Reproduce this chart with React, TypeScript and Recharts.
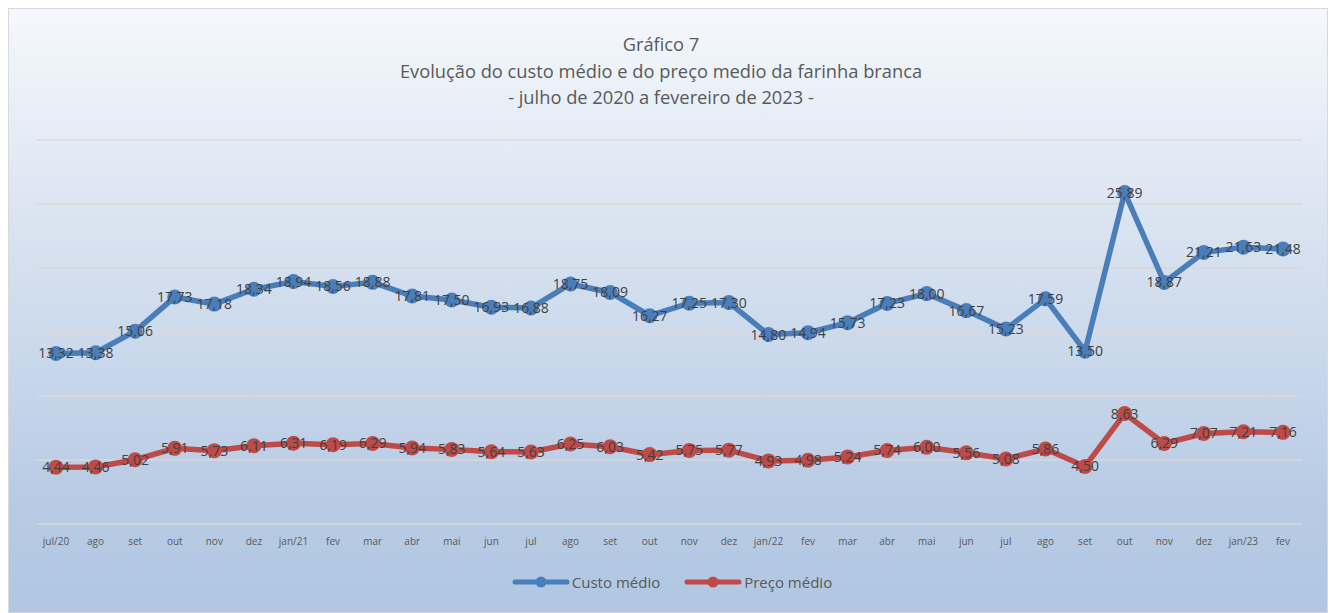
import React from 'react';
import { LineChart, Line, XAxis, YAxis, CartesianGrid, LabelList, Legend } from 'recharts';

const categories = ['jul/20','ago','set','out','nov','dez','jan/21','fev','mar','abr','mai','jun','jul','ago','set','out','nov','dez','jan/22','fev','mar','abr','mai','jun','jul','ago','set','out','nov','dez','jan/23','fev'];
const custoMedio = [13.32,13.38,15.06,17.73,17.18,18.34,18.94,18.56,18.88,17.81,17.50,16.93,16.88,18.75,18.09,16.27,17.25,17.30,14.80,14.94,15.73,17.23,18.00,16.67,15.23,17.59,13.50,25.89,18.87,21.21,21.63,21.48];
const precoMedio = [4.44,4.46,5.02,5.91,5.73,6.11,6.31,6.19,6.29,5.94,5.83,5.64,5.63,6.25,6.03,5.42,5.75,5.77,4.93,4.98,5.24,5.74,6.00,5.56,5.08,5.86,4.50,8.63,6.29,7.07,7.21,7.16];
const yTicks = [0, 5, 10, 15, 20, 25, 30];
const titleLines = ['Gráfico 7', 'Evolução do custo médio e do preço medio da farinha branca', '- julho de 2020 a fevereiro de 2023 -'];

const data = categories.map((c, i) => ({ name: c, custo: custoMedio[i], preco: precoMedio[i] }));

const BLUE = '#4a7ebb';
const RED = '#be4b48';
const FONT = '"Open Sans", "Noto Sans", sans-serif';

const fmt = (v: any) => Number(v).toFixed(2).replace('.', ',');

const LegendContent = () => {
  const items = [
    { label: 'Custo médio', color: BLUE },
    { label: 'Preço médio', color: RED },
  ];
  return (
    <div style={{ display: 'flex', justifyContent: 'center', alignItems: 'center', fontFamily: FONT, fontSize: 15, color: '#595959', paddingLeft: 8 }}>
      {items.map((it) => (
        <div key={it.label} style={{ display: 'flex', alignItems: 'center', margin: '0 12px' }}>
          <svg width={58} height={14} style={{ marginRight: 2 }}>
            <line x1={3} y1={7} x2={55} y2={7} stroke={it.color} strokeWidth={5} strokeLinecap="round" />
            <circle cx={29} cy={7} r={5.5} fill={it.color} />
          </svg>
          <span>{it.label}</span>
        </div>
      ))}
    </div>
  );
};

export default function App() {
  const W = 1320;
  const H = 605;
  return (
    <div style={{ position: 'relative', width: W, height: H, boxSizing: 'border-box', border: '1px solid #d9d9d9', background: 'linear-gradient(180deg, #f5f8fc 0%, #dae4f1 35%, #b9cce5 80%, #b0c6e2 100%)', fontFamily: FONT }}>
      <div style={{ position: 'absolute', top: 22, left: 0, width: W - 16, textAlign: 'center', color: '#595959', fontSize: 18.3, lineHeight: '26.5px' }}>
        {titleLines.map((t) => (<div key={t}>{t}</div>))}
      </div>
      <LineChart width={W - 2} height={H - 2} data={data} margin={{ top: 131, left: 28, right: 25, bottom: 58 }} style={{ position: 'absolute', top: 0, left: 0 }}>
        <CartesianGrid vertical={false} stroke="#d9d9d9" strokeWidth={1.5} />
        <XAxis dataKey="name" tickLine={false} axisLine={false} interval={0} padding={{ left: 19, right: 19 }} tick={{ fontSize: 10, fill: '#595959', fontFamily: FONT }} tickMargin={8} />
        <YAxis hide domain={[0, 30]} ticks={yTicks} />
        <Legend verticalAlign="middle" align="center" content={<LegendContent />} wrapperStyle={{ top: 563, left: 0, width: W - 2 }} />
        <Line type="linear" dataKey="custo" name="Custo médio" stroke={BLUE} strokeWidth={5.5} dot={{ r: 7.5, fill: BLUE, stroke: BLUE, strokeWidth: 0 }} activeDot={false} isAnimationActive={false}>
          <LabelList dataKey="custo" position="center" formatter={fmt} style={{ fontSize: 14, fill: '#404040', fontFamily: FONT }} />
        </Line>
        <Line type="linear" dataKey="preco" name="Preço médio" stroke={RED} strokeWidth={5.5} dot={{ r: 7.5, fill: RED, stroke: RED, strokeWidth: 0 }} activeDot={false} isAnimationActive={false}>
          <LabelList dataKey="preco" position="center" formatter={fmt} style={{ fontSize: 14, fill: '#404040', fontFamily: FONT }} />
        </Line>
      </LineChart>
    </div>
  );
}
